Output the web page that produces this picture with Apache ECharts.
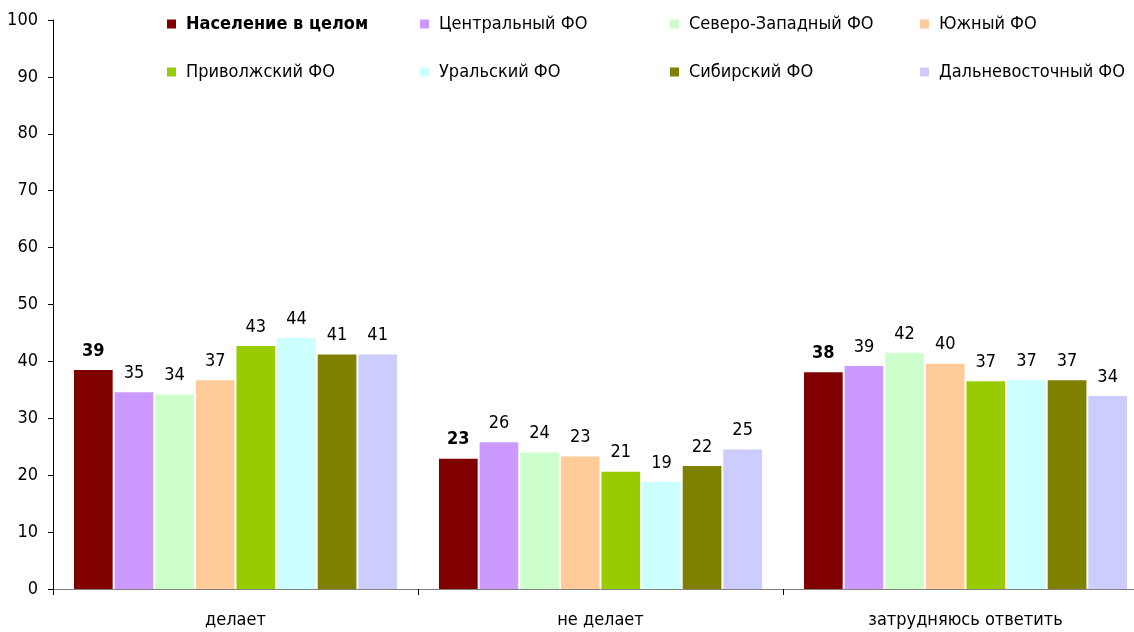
<!DOCTYPE html>
<html><head><meta charset="utf-8">
<script src="https://cdn.jsdelivr.net/npm/echarts@6/dist/echarts.min.js"></script>
<style>html,body{margin:0;padding:0;background:#fff;overflow:hidden;width:1134px;height:632px}#c{width:1148px;height:632px}</style>
</head><body><div id="c"></div>
<script>
const categories = ['делает', 'не делает', 'затрудняюсь ответить'];
const seriesNames = ['Население в целом', 'Центральный ФО', 'Северо-Западный ФО', 'Южный ФО',
  'Приволжский ФО', 'Уральский ФО', 'Сибирский ФО', 'Дальневосточный ФО'];
const nasel = [38.5, 22.9, 38.1];
const central = [34.6, 25.8, 39.2];
const nw = [34.2, 24.0, 41.5];
const south = [36.7, 23.3, 39.6];
const volga = [42.7, 20.6, 36.5];
const ural = [44.1, 18.8, 36.7];
const siber = [41.2, 21.6, 36.7];
const fareast = [41.2, 24.5, 33.9];
const yTicks = [0, 10, 20, 30, 40, 50, 60, 70, 80, 90, 100];

const seriesData = [nasel, central, nw, south, volga, ural, siber, fareast];
const colors = ['#800000', '#CC99FF', '#CCFFCC', '#FFCC99', '#99CC00', '#CCFFFF', '#808000', '#CCCCFF'];
const FONT = '"Liberation Sans Narrow", "DejaVu Sans Condensed", "Noto Sans", sans-serif';

const legendPos = [[167, 15], [420, 15], [670, 15], [920, 15], [167, 63], [420, 63], [670, 63], [920, 63]];
const legends = seriesNames.map((n, i) => ({
  data: [n], left: legendPos[i][0], top: legendPos[i][1],
  itemWidth: 9, itemHeight: 9, icon: 'rect', padding: 0,
  textStyle: { fontFamily: FONT, fontSize: 18, color: '#000', fontWeight: i === 0 ? 'bold' : 'normal', padding: [0, 0, 0, 5] },
  selectedMode: false
}));

const chart = echarts.init(document.getElementById('c'));
chart.setOption({
  animation: false,
  textStyle: { fontFamily: FONT },
  legend: legends,
  grid: { left: 53, right: 0, top: 20, bottom: 43, containLabel: false },
  xAxis: {
    type: 'category', data: categories,
    axisLine: { lineStyle: { color: '#808080', width: 1 } },
    axisTick: { show: true, length: 6, lineStyle: { color: '#000' } },
    axisLabel: { fontFamily: FONT, fontSize: 18, color: '#000', margin: 22 }
  },
  yAxis: {
    type: 'value', min: yTicks[0], max: yTicks[yTicks.length - 1], interval: 10,
    splitLine: { show: false },
    axisLine: { show: true, lineStyle: { color: '#000', width: 1 } },
    axisTick: { show: true, length: 5, lineStyle: { color: '#000' } },
    axisLabel: { fontFamily: FONT, fontSize: 18, color: '#000', margin: 15 }
  },
  series: seriesNames.map((n, i) => ({
    name: n, type: 'bar', data: seriesData[i],
    barGap: '5%', barCategoryGap: '11.5%',
    itemStyle: { color: colors[i] },
    label: {
      show: true, position: 'top', distance: 10,
      fontFamily: FONT, fontSize: 18, color: '#000',
      fontWeight: i === 0 ? 'bold' : 'normal',
      formatter: p => String(Math.round(p.value))
    }
  }))
});
</script></body></html>
